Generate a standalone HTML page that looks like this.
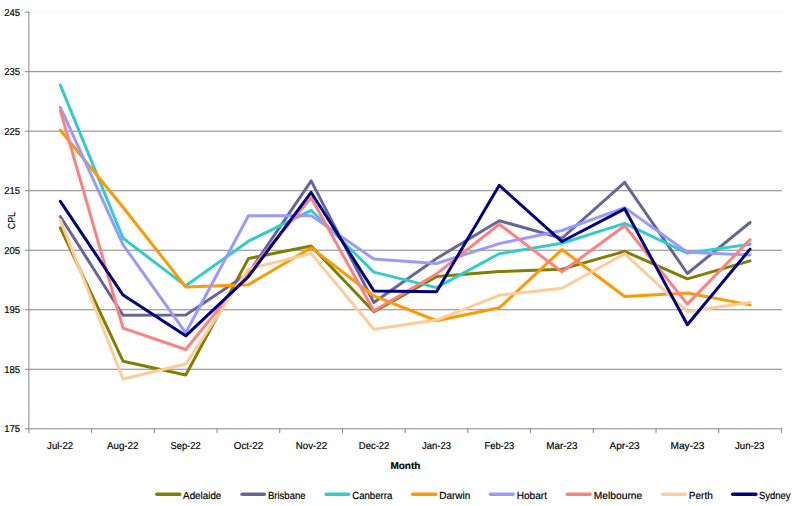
<!DOCTYPE html>
<html><head><meta charset="utf-8"><title>CPL by Month</title>
<style>html,body{margin:0;padding:0;background:#fff;}body{width:797px;height:506px;overflow:hidden;}svg{display:block;}text{font-family:"Liberation Sans",sans-serif;fill:#000;stroke:#000;stroke-width:0.18px;text-rendering:geometricPrecision;}</style>
</head><body>
<svg width="797" height="506" viewBox="0 0 797 506">
<rect x="0" y="0" width="797" height="506" fill="#ffffff"/>
<g stroke="#868686" stroke-width="1" fill="none">
<line x1="28.90" y1="428.80" x2="781.95" y2="428.80"/>
<line x1="28.90" y1="369.28" x2="781.95" y2="369.28"/>
<line x1="28.90" y1="309.76" x2="781.95" y2="309.76"/>
<line x1="28.90" y1="250.24" x2="781.95" y2="250.24"/>
<line x1="28.90" y1="190.72" x2="781.95" y2="190.72"/>
<line x1="28.90" y1="131.20" x2="781.95" y2="131.20"/>
<line x1="28.90" y1="71.68" x2="781.95" y2="71.68"/>
<line x1="28.90" y1="12.16" x2="781.45" y2="12.16" stroke="#f6f6f6"/>
</g>
<g stroke="#868686" stroke-width="1" fill="none">
<line x1="28.90" y1="11.66" x2="28.90" y2="433.00"/>
<line x1="24.90" y1="428.80" x2="28.90" y2="428.80"/>
<line x1="24.90" y1="369.28" x2="28.90" y2="369.28"/>
<line x1="24.90" y1="309.76" x2="28.90" y2="309.76"/>
<line x1="24.90" y1="250.24" x2="28.90" y2="250.24"/>
<line x1="24.90" y1="190.72" x2="28.90" y2="190.72"/>
<line x1="24.90" y1="131.20" x2="28.90" y2="131.20"/>
<line x1="24.90" y1="71.68" x2="28.90" y2="71.68"/>
<line x1="24.90" y1="12.16" x2="28.90" y2="12.16"/>
<line x1="91.61" y1="428.30" x2="91.61" y2="433.00"/>
<line x1="154.33" y1="428.30" x2="154.33" y2="433.00"/>
<line x1="217.04" y1="428.30" x2="217.04" y2="433.00"/>
<line x1="279.75" y1="428.30" x2="279.75" y2="433.00"/>
<line x1="342.46" y1="428.30" x2="342.46" y2="433.00"/>
<line x1="405.18" y1="428.30" x2="405.18" y2="433.00"/>
<line x1="467.89" y1="428.30" x2="467.89" y2="433.00"/>
<line x1="530.60" y1="428.30" x2="530.60" y2="433.00"/>
<line x1="593.31" y1="428.30" x2="593.31" y2="433.00"/>
<line x1="656.02" y1="428.30" x2="656.02" y2="433.00"/>
<line x1="718.74" y1="428.30" x2="718.74" y2="433.00"/>
<line x1="781.45" y1="428.30" x2="781.45" y2="433.00"/>
</g>
<text x="20.1" y="432" font-size="10" text-anchor="end" textLength="15.9" lengthAdjust="spacingAndGlyphs">175</text>
<text x="20.1" y="373" font-size="10" text-anchor="end" textLength="15.9" lengthAdjust="spacingAndGlyphs">185</text>
<text x="20.1" y="313" font-size="10" text-anchor="end" textLength="15.9" lengthAdjust="spacingAndGlyphs">195</text>
<text x="20.1" y="254" font-size="10" text-anchor="end" textLength="15.9" lengthAdjust="spacingAndGlyphs">205</text>
<text x="20.1" y="194" font-size="10" text-anchor="end" textLength="15.9" lengthAdjust="spacingAndGlyphs">215</text>
<text x="20.1" y="135" font-size="10" text-anchor="end" textLength="15.9" lengthAdjust="spacingAndGlyphs">225</text>
<text x="20.1" y="75" font-size="10" text-anchor="end" textLength="15.9" lengthAdjust="spacingAndGlyphs">235</text>
<text x="20.1" y="16" font-size="10" text-anchor="end" textLength="15.9" lengthAdjust="spacingAndGlyphs">245</text>
<text x="47.10" y="449" font-size="10" textLength="26.10" lengthAdjust="spacingAndGlyphs">Jul-22</text>
<text x="107.00" y="449" font-size="10" textLength="31.40" lengthAdjust="spacingAndGlyphs">Aug-22</text>
<text x="170.50" y="449" font-size="10" textLength="30.10" lengthAdjust="spacingAndGlyphs">Sep-22</text>
<text x="233.80" y="449" font-size="10" textLength="29.40" lengthAdjust="spacingAndGlyphs">Oct-22</text>
<text x="295.80" y="449" font-size="10" textLength="31.40" lengthAdjust="spacingAndGlyphs">Nov-22</text>
<text x="358.80" y="449" font-size="10" textLength="30.60" lengthAdjust="spacingAndGlyphs">Dec-22</text>
<text x="422.00" y="449" font-size="10" textLength="28.90" lengthAdjust="spacingAndGlyphs">Jan-23</text>
<text x="484.50" y="449" font-size="10" textLength="29.60" lengthAdjust="spacingAndGlyphs">Feb-23</text>
<text x="546.30" y="449" font-size="10" textLength="31.30" lengthAdjust="spacingAndGlyphs">Mar-23</text>
<text x="609.50" y="449" font-size="10" textLength="30.20" lengthAdjust="spacingAndGlyphs">Apr-23</text>
<text x="670.50" y="449" font-size="10" textLength="33.90" lengthAdjust="spacingAndGlyphs">May-23</text>
<text x="735.00" y="449" font-size="10" textLength="29.40" lengthAdjust="spacingAndGlyphs">Jun-23</text>
<text x="405.40" y="469" font-size="10" font-weight="bold" text-anchor="middle" textLength="30" lengthAdjust="spacingAndGlyphs">Month</text>
<text transform="translate(15,220.6) rotate(-90)" font-size="10" text-anchor="middle" textLength="17.3" lengthAdjust="spacingAndGlyphs">CPL</text>
<g fill="none" stroke-width="3.00" stroke-linecap="round" stroke-linejoin="round">
<polyline stroke="#808000" points="60.35,227.84 123.05,361.20 185.75,375.06 248.45,258.47 311.15,245.98 373.85,311.71 436.55,276.61 499.25,271.56 561.95,269.18 624.65,251.33 687.35,278.87 750.05,260.85"/>
<polyline stroke="#666699" points="60.35,216.53 123.05,315.28 185.75,314.98 248.45,273.34 311.15,180.84 373.85,302.49 436.55,258.47 499.25,220.70 561.95,238.25 624.65,182.33 687.35,273.52 750.05,222.48"/>
<polyline stroke="#33CCCC" points="60.35,85.07 123.05,238.25 185.75,285.83 248.45,241.22 311.15,210.29 373.85,272.15 436.55,287.62 499.25,253.71 561.95,243.30 624.65,223.37 687.35,253.12 750.05,244.19"/>
<polyline stroke="#FF9900" points="60.35,130.28 123.05,207.31 185.75,287.02 248.45,284.64 311.15,247.76 373.85,295.95 436.55,320.75 499.25,307.84 561.95,249.55 624.65,296.54 687.35,292.97 750.05,304.87"/>
<polyline stroke="#9999FF" points="60.35,107.38 123.05,244.79 185.75,332.83 248.45,215.82 311.15,215.64 373.85,259.07 436.55,263.47 499.25,243.60 561.95,230.51 624.65,207.61 687.35,252.22 750.05,255.02"/>
<polyline stroke="#FF8080" points="60.35,110.65 123.05,328.07 185.75,349.48 248.45,272.15 311.15,197.80 373.85,310.82 436.55,273.94 499.25,224.27 561.95,271.74 624.65,225.75 687.35,304.10 750.05,239.61"/>
<polyline stroke="#FFCC99" points="60.35,220.10 123.05,378.93 185.75,364.06 248.45,268.88 311.15,253.59 373.85,329.26 436.55,320.04 499.25,295.35 561.95,288.21 624.65,253.71 687.35,311.59 750.05,302.49"/>
<polyline stroke="#000080" points="60.35,201.36 123.05,295.05 185.75,335.80 248.45,276.61 311.15,192.44 373.85,290.89 436.55,291.78 499.25,185.30 561.95,241.52 624.65,208.80 687.35,324.68 750.05,249.13"/>
</g>
<g stroke-width="3.4" stroke-linecap="round" fill="none">
<line x1="156.80" y1="494.2" x2="179.80" y2="494.2" stroke="#808000"/>
<line x1="242.00" y1="494.2" x2="264.40" y2="494.2" stroke="#666699"/>
<line x1="326.10" y1="494.2" x2="348.60" y2="494.2" stroke="#33CCCC"/>
<line x1="412.60" y1="494.2" x2="435.90" y2="494.2" stroke="#FF9900"/>
<line x1="490.40" y1="494.2" x2="513.10" y2="494.2" stroke="#9999FF"/>
<line x1="567.30" y1="494.2" x2="590.10" y2="494.2" stroke="#FF8080"/>
<line x1="662.70" y1="494.2" x2="685.30" y2="494.2" stroke="#FFCC99"/>
<line x1="732.60" y1="494.2" x2="755.90" y2="494.2" stroke="#000080"/>
</g>
<text x="183.10" y="499" font-size="10.3" textLength="38.20" lengthAdjust="spacingAndGlyphs">Adelaide</text>
<text x="267.90" y="499" font-size="10.3" textLength="37.70" lengthAdjust="spacingAndGlyphs">Brisbane</text>
<text x="352.20" y="499" font-size="10.3" textLength="40.10" lengthAdjust="spacingAndGlyphs">Canberra</text>
<text x="439.30" y="499" font-size="10.3" textLength="31.00" lengthAdjust="spacingAndGlyphs">Darwin</text>
<text x="516.70" y="499" font-size="10.3" textLength="30.30" lengthAdjust="spacingAndGlyphs">Hobart</text>
<text x="593.70" y="499" font-size="10.3" textLength="48.60" lengthAdjust="spacingAndGlyphs">Melbourne</text>
<text x="688.80" y="499" font-size="10.3" textLength="24.00" lengthAdjust="spacingAndGlyphs">Perth</text>
<text x="758.90" y="499" font-size="10.3" textLength="31.70" lengthAdjust="spacingAndGlyphs">Sydney</text>
</svg>
</body></html>
